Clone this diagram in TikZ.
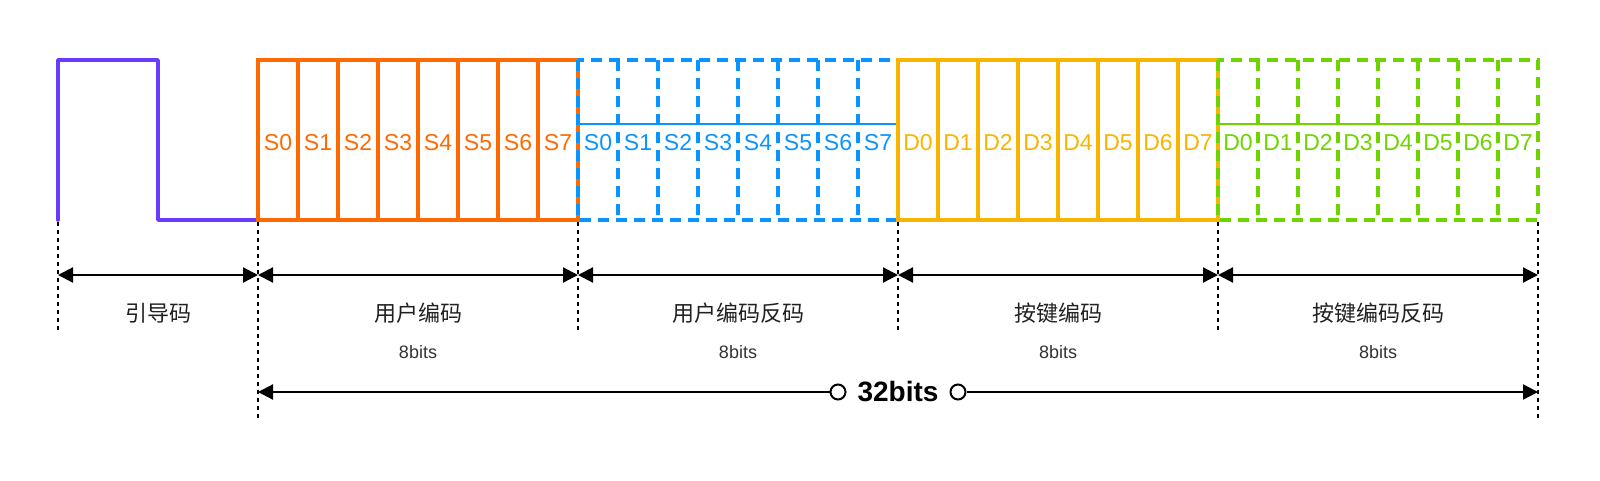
\documentclass[tikz,border=0pt]{standalone}
\usepackage{fontspec}
\setmainfont{Noto Sans CJK SC}
\newfontfamily\latinfont{Liberation Sans}
\usetikzlibrary{arrows.meta}

\definecolor{leadpurple}{HTML}{6A3BFF}
\definecolor{codeorange}{HTML}{FF6A00}
\definecolor{codeblue}{HTML}{0A94FF}
\definecolor{codeyellow}{HTML}{F7B500}
\definecolor{codegreen}{HTML}{6DD400}

\tikzset{
  bitlabel/.style={inner sep=0pt, anchor=base, font=\latinfont\fontsize{23}{23}\selectfont},
  fieldlabel/.style={inner sep=0pt, text=black!87, font=\fontsize{22}{22}\selectfont},
  sizelabel/.style={inner sep=0pt, text=black!80, font=\latinfont\fontsize{18}{18}\selectfont},
  segsolid/.style={line width=3.2pt},
  segdashed/.style={line width=3.2pt, dash pattern=on 11pt off 7pt},
  guide/.style={black, line width=2pt, dash pattern=on 4pt off 4pt},
  span/.style={line width=2.2pt, {Triangle[length=15pt,width=15pt]}-{Triangle[length=15pt,width=15pt]}},
  halfspan/.style={line width=2.2pt, {Triangle[length=15pt,width=15pt]}-},
  ring/.style={circle, draw, line width=2pt, minimum size=15pt, inner sep=0pt},
}

\begin{document}
\begin{tikzpicture}[x=1pt, y=-1pt]
  \useasboundingbox (0,0) rectangle (1600,480);

  % lead pulse
  \draw[leadpurple, line width=3.6pt, line join=round, line cap=round]
    (58,220) -- (58,60) -- (158,60) -- (158,220) -- (258,220);

  % user code
  \draw[codeorange, segsolid] (258,60) rectangle (578,220);
  \foreach \i in {1,...,7}
    \draw[codeorange, segsolid] (258+40*\i,60) -- (258+40*\i,220);
  \foreach \i in {0,...,7}
    \node[bitlabel, text=codeorange] (us\i) at (278+40*\i,150) {S\i};

  % user code inverse
  \draw[codeblue, segdashed] (578,60) rectangle (898,220);
  \foreach \i in {1,...,7}
    \draw[codeblue, segdashed] (578+40*\i,60) -- (578+40*\i,220);
  \draw[codeblue, line width=2pt] (578,124) -- (898,124);
  \foreach \i in {0,...,7}
    \node[bitlabel, text=codeblue] (ui\i) at (598+40*\i,150) {S\i};

  % key code
  \draw[codeyellow, segsolid] (898,60) rectangle (1218,220);
  \foreach \i in {1,...,7}
    \draw[codeyellow, segsolid] (898+40*\i,60) -- (898+40*\i,220);
  \foreach \i in {0,...,7}
    \node[bitlabel, text=codeyellow] (kd\i) at (918+40*\i,150) {D\i};

  % key code inverse
  \draw[codegreen, segdashed] (1218,60) rectangle (1538,220);
  \foreach \i in {1,...,7}
    \draw[codegreen, segdashed] (1218+40*\i,60) -- (1218+40*\i,220);
  \draw[codegreen, line width=2pt] (1218,124) -- (1538,124);
  \foreach \i in {0,...,7}
    \node[bitlabel, text=codegreen] (ki\i) at (1238+40*\i,150) {D\i};

  % guides
  \foreach \n/\x/\y in {0/58/330, 1/258/420, 2/578/330, 3/898/330, 4/1218/330, 5/1538/420} {
    \coordinate (t\n) at (\x,222);
    \coordinate (b\n) at (\x,\y);
    \coordinate (a\n) at (\x,275);
    \coordinate (c\n) at (\x,392);
    \draw[guide] (t\n) -- (b\n);
  }

  % spans
  \foreach \m/\n in {0/1, 1/2, 2/3, 3/4, 4/5}
    \draw[span] (a\m) -- (a\n);

  \node[fieldlabel] (lead) at (158,313) {引导码};
  \node[fieldlabel] (user) at (418,313) {用户编码};
  \node[fieldlabel] (userinv) at (738,313) {用户编码反码};
  \node[fieldlabel] (key) at (1058,313) {按键编码};
  \node[fieldlabel] (keyinv) at (1378,313) {按键编码反码};

  \node[sizelabel] (usersize) at (418,352) {8bits};
  \node[sizelabel] (userinvsize) at (738,352) {8bits};
  \node[sizelabel] (keysize) at (1058,352) {8bits};
  \node[sizelabel] (keyinvsize) at (1378,352) {8bits};

  % total
  \node[inner sep=0pt, font=\latinfont\fontsize{28}{28}\selectfont\bfseries] (total) at (898,392) {32bits};
  \node[ring] (lring) at (838,392) {};
  \node[ring] (rring) at (958,392) {};
  \draw[halfspan] (c1) -- (lring);
  \draw[halfspan] (c5) -- (rring);

\end{tikzpicture}
\end{document}
